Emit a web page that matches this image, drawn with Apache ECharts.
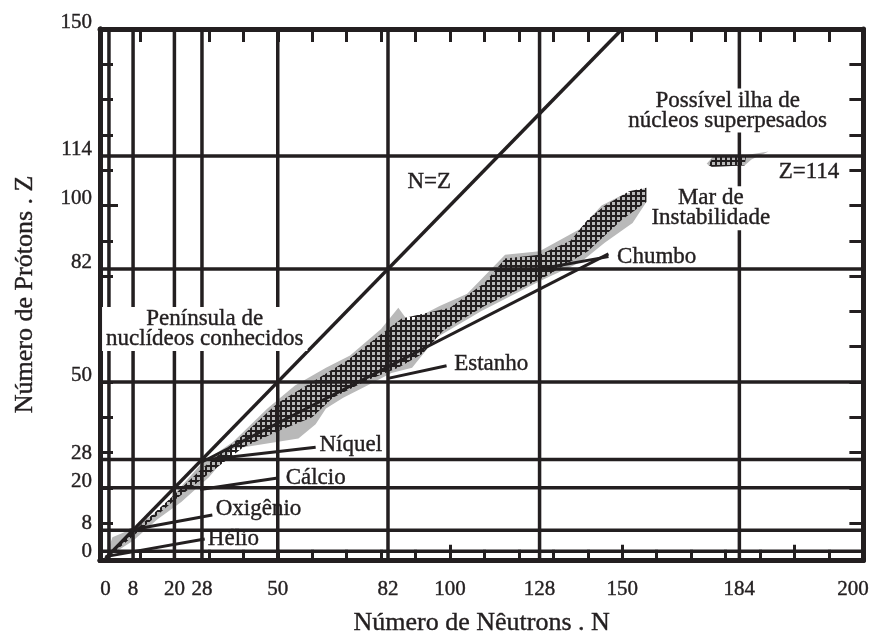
<!DOCTYPE html>
<html>
<head>
<meta charset="utf-8">
<style>
html, body { margin: 0; padding: 0; background: #fff; }
#chart { width: 872px; height: 641px; }
</style>
<script src="https://cdn.jsdelivr.net/npm/echarts@6/dist/echarts.min.js"></script>
</head>
<body>
<div id="chart"></div>
<script>
const ink = '#231f20';
const serif = '"Liberation Serif", "Times New Roman", serif';

// linhas dos números mágicos (N e Z)
const magicN = [1, 8, 20, 28, 50, 82, 126, 184];
const magicZ = [2, 8, 20, 28, 50, 82, 114];

// rótulos dos eixos (posição -> texto, como no desenho original)
const xLabelValues = [0, 8, 20, 28, 50, 82, 100, 126, 150, 184, 217];
const xLabelTexts = ['0', '8', '20', '28', '50', '82', '100', '128', '150', '184', '200'];
const yLabelValues = [0, 8, 20, 28, 50, 82, 100, 114, 150];
const yLabelTexts = ['0', '8', '20', '28', '50', '82', '100', '114', '150'];

// marcas pequenas a cada 10
const xTicks = [10, 20, 30, 40, 50, 60, 70, 80, 90, 100, 110, 120, 130, 140, 150, 160, 170, 180, 190, 200, 210];
const xLongTicks = [100, 150, 200];
const yTicks = [10, 20, 30, 40, 50, 60, 70, 80, 90, 100, 110, 120, 130, 140];
const yLongTicks = [100];

// faixa de nuclídeos conhecidos (contorno cinza) [N, Z]
const bandUpper = [[0, 0], [2, 6], [8, 8.5], [16, 14], [23, 21.5], [28, 27], [37, 33], [47, 42.5],
  [55, 49], [64, 54], [71, 57.5], [80, 65], [85, 71], [88, 67], [97, 71.5], [105, 75],
  [116, 86], [126, 87], [138, 93.5], [144, 100], [150, 103], [157, 105]];
const bandLower = [[157, 101], [153, 95], [145, 89.5], [138, 84], [126, 78.5], [109, 70], [96, 62.5],
  [89, 54], [83, 52.5], [76, 49], [69, 45.5], [64, 42.5], [61, 38], [56, 34], [37, 31], [30, 23],
  [22, 16], [15, 11], [8, 5], [0, 0]];
// parte quadriculada (núcleos estáveis/medidos)
const hatchUpper = [[1, 1], [8, 7.5], [20, 18], [28, 25.5], [40, 35], [50, 44], [60, 50], [70, 56],
  [80, 63.5], [86, 68], [100, 71], [110, 78], [116, 85], [126, 86], [135, 90], [140, 96],
  [145, 100], [152, 104], [157, 105]];
const hatchLower = [[157, 101], [150, 96], [140, 87], [128, 80], [110, 71.5], [98, 64.5], [92, 58],
  [85, 54], [76, 50.5], [66, 45.5], [60, 40], [50, 36], [40, 31.5], [30, 24], [20, 16.5], [10, 8], [1, 0.5]];
// ilha de estabilidade
const islandGray = [[174.5, 111.8], [176.5, 114], [186, 114.3], [192.5, 115.3], [187.5, 113], [185.5, 111.3], [176, 110.9]];
const islandHatch = [[175, 111.5], [176.5, 113.8], [186, 114], [185.5, 111.3], [176, 111]];

// linha N=Z, linha de estabilidade e linhas indicadoras dos elementos
const nEqualsZ = [[0, 0], [150, 150]];
const stabilityLine = [[28, 27.3], [146, 86.3]];
const pointers = [
  [[0, 0.5], [28.8, 5.5]],     // Hélio
  [[7, 8], [31, 12.3]],        // Oxigênio
  [[27.5, 19.5], [50, 22.8]],  // Cálcio
  [[30, 28], [61, 31.5]],      // Níquel
  [[82, 51], [99, 54.6]],      // Estanho
  [[126, 82], [146, 85.5]]     // Chumbo
];

// textos: [texto, N, Z, alinhamento, fundo branco]
const notes = [
  ['Possível ilha de\nnúcleos superpesados', 180.6, 126.9, 'center', true],
  ['Z=114', 195.4, 109.6, 'left', false],
  ['Mar de\nInstabilidade', 175.7, 99.2, 'center', true],
  ['Chumbo', 148.5, 85.5, 'left', false],
  ['N=Z', 94, 106.8, 'center', false],
  ['Estanho', 101.2, 55, 'left', false],
  ['Península de\nnuclídeos conhecidos', 28.8, 65, 'center', true],
  ['Níquel', 62.1, 32, 'left', false],
  ['Cálcio', 52.3, 22.9, 'left', false],
  ['Oxigênio', 32, 14, 'left', false],
  ['Hélio', 29.7, 5.4, 'left', false]
];

const xMin = -1.6, xMax = 220, yMin = -0.4, yMax = 150;

function hatchPattern() {
  const c = document.createElement('canvas');
  c.width = 5; c.height = 5;
  const g = c.getContext('2d');
  g.fillStyle = ink;
  g.fillRect(0, 0, 2, 5);
  g.fillRect(0, 0, 5, 2);
  return { image: c, repeat: 'repeat' };
}

function polygonSeries(points, fill) {
  return {
    type: 'custom',
    silent: true,
    data: points,
    encode: { x: 0, y: 1 },
    renderItem: function (params, api) {
      if (params.dataIndex !== 0) return;
      return {
        type: 'polygon',
        shape: { points: points.map(p => api.coord(p)) },
        style: { fill: fill, stroke: null }
      };
    }
  };
}

function lineSeries(data, width) {
  return {
    type: 'line',
    data: data,
    symbol: 'none',
    silent: true,
    animation: false,
    lineStyle: { color: ink, width: width, cap: 'butt' }
  };
}

const series = [];
magicN.forEach(n => series.push(lineSeries([[n, yMin], [n, yMax]], 3.5)));
magicZ.forEach(z => series.push(lineSeries([[xMin, z], [xMax, z]], 3.5)));
series.push(polygonSeries(bandUpper.concat(bandLower), '#b9b9b9'));
series.push(polygonSeries(hatchUpper.concat(hatchLower), hatchPattern()));
series.push(polygonSeries(islandGray, '#b9b9b9'));
series.push(polygonSeries(islandHatch, hatchPattern()));
series.push(lineSeries(nEqualsZ, 3.5));
series.push(lineSeries(stabilityLine, 3));
pointers.forEach(p => series.push(lineSeries(p, 3)));
series.push({
  type: 'custom',
  silent: true,
  z: 10,
  data: notes.map(n => [n[1], n[2]]),
  encode: { x: 0, y: 1 },
  renderItem: function (params, api) {
    const n = notes[params.dataIndex];
    const p = api.coord([n[1], n[2]]);
    return {
      type: 'text',
      x: p[0],
      y: p[1],
      style: {
        text: n[0],
        font: '23px ' + serif,
        fill: ink,
        stroke: ink,
        lineWidth: 0.4,
        align: n[3],
        verticalAlign: 'middle',
        lineHeight: 20,
        backgroundColor: n[4] ? '#fff' : null,
        padding: n[4] ? [2, 4] : 0
      }
    };
  }
});

function xAxisDef(position, ticks, len, labels) {
  return {
    type: 'value', position: position, min: xMin, max: xMax,
    axisLine: { show: true, onZero: false, lineStyle: { color: ink, width: 5 } },
    axisTick: { show: true, inside: true, customValues: ticks, length: len, lineStyle: { color: ink, width: 3 } },
    axisLabel: labels ? {
      customValues: xLabelValues, margin: 19, color: ink, fontFamily: serif, fontSize: 21,
      textBorderColor: ink, textBorderWidth: 0.4,
      formatter: v => xLabelTexts[xLabelValues.indexOf(v)]
    } : { show: false },
    splitLine: { show: false }
  };
}
function yAxisDef(position, ticks, len, labels) {
  return {
    type: 'value', position: position, min: yMin, max: yMax,
    axisLine: { show: true, onZero: false, lineStyle: { color: ink, width: 5 } },
    axisTick: { show: true, inside: true, customValues: ticks, length: len, lineStyle: { color: ink, width: 3 } },
    axisLabel: labels ? {
      customValues: yLabelValues, margin: 8, color: ink, fontFamily: serif, fontSize: 21,
      textBorderColor: ink, textBorderWidth: 0.4,
      verticalAlign: 'bottom', lineHeight: 13,
      formatter: v => yLabelTexts[yLabelValues.indexOf(v)]
    } : { show: false },
    splitLine: { show: false }
  };
}

const xMain = xAxisDef('bottom', xTicks, 10, true);
xMain.name = 'Número de Nêutrons . N';
xMain.nameLocation = 'middle';
xMain.nameGap = 50;
xMain.nameTextStyle = { color: ink, fontFamily: serif, fontSize: 26, textBorderColor: ink, textBorderWidth: 0.4 };
const yMain = yAxisDef('left', yTicks, 13, true);
yMain.name = 'Número de Prótons . Z';
yMain.nameLocation = 'middle';
yMain.nameGap = 62;
yMain.nameTextStyle = { color: ink, fontFamily: serif, fontSize: 26, textBorderColor: ink, textBorderWidth: 0.4 };

const chart = echarts.init(document.getElementById('chart'));
chart.setOption({
  animation: false,
  backgroundColor: '#fff',
  grid: { left: 100, right: 8, top: 29, bottom: 69, containLabel: false },
  xAxis: [
    xMain,
    xAxisDef('top', xTicks, 13, false),
    xAxisDef('bottom', xLongTicks, 15, false)
  ],
  yAxis: [
    yMain,
    yAxisDef('right', yTicks, 14, false),
    yAxisDef('left', yLongTicks, 18, false)
  ],
  series: series
});
</script>
</body>
</html>
